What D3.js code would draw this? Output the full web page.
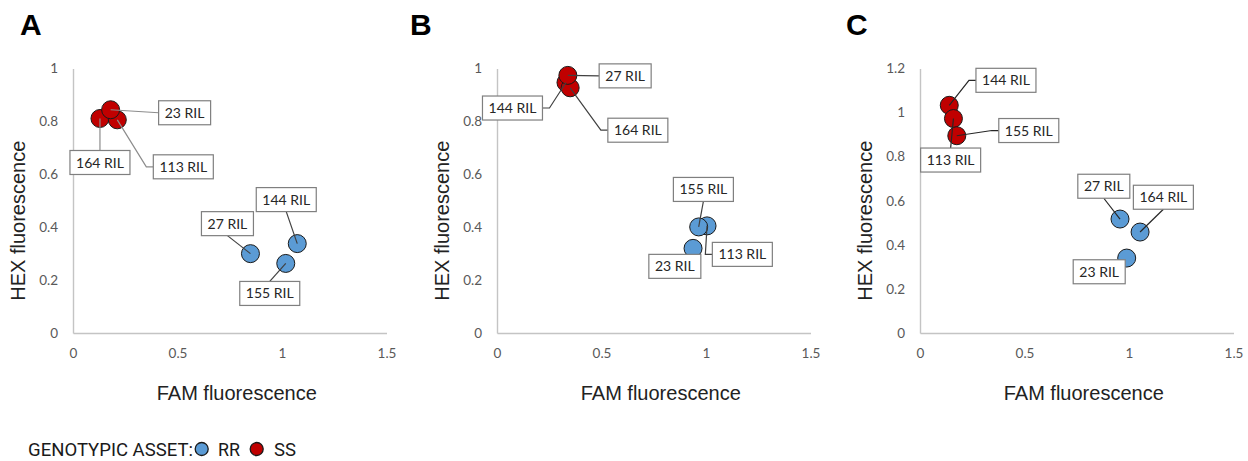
<!DOCTYPE html>
<html>
<head>
<meta charset="utf-8">
<script src="https://cdn.jsdelivr.net/npm/d3@7/dist/d3.min.js"></script>
<style>
  html, body { margin: 0; padding: 0; background: #fff; }
  svg { display: block; }
</style>
</head>
<body>
<svg id="chart" width="1248" height="461"></svg>
<script>
// ---------- DATA ----------
const panelNames = ["A", "B", "C"];
const xTickValues = [0, 0.5, 1, 1.5];
const xTickLabels = ["0", "0.5", "1", "1.5"];
const yTickValuesAB = [0, 0.2, 0.4, 0.6, 0.8, 1];
const yTickLabelsAB = ["0", "0.2", "0.4", "0.6", "0.8", "1"];
const yTickValuesC = [0, 0.2, 0.4, 0.6, 0.8, 1, 1.2];
const yTickLabelsC = ["0", "0.2", "0.4", "0.6", "0.8", "1", "1.2"];
const xTitle = "FAM fluorescence";
const yTitle = "HEX fluorescence";
const legendTitle = "GENOTYPIC ASSET:";
const seriesNames = ["RR", "SS"];

// Panel A
const ssA_labels = ["164 RIL", "113 RIL", "23 RIL"];
const ssA_fam = [0.129, 0.212, 0.180];
const ssA_hex = [0.811, 0.806, 0.844];
const rrA_labels = ["27 RIL", "144 RIL", "155 RIL"];
const rrA_fam = [0.849, 1.073, 1.018];
const rrA_hex = [0.300, 0.338, 0.263];

// Panel B
const ssB_labels = ["144 RIL", "164 RIL", "27 RIL"];
const ssB_fam = [0.330, 0.350, 0.339];
const ssB_hex = [0.947, 0.927, 0.974];
const rrB_labels = ["113 RIL", "155 RIL", "23 RIL"];
const rrB_fam = [1.005, 0.965, 0.938];
const rrB_hex = [0.405, 0.401, 0.320];

// Panel C
const ssC_labels = ["144 RIL", "113 RIL", "155 RIL"];
const ssC_fam = [0.140, 0.160, 0.176];
const ssC_hex = [1.033, 0.973, 0.895];
const rrC_labels = ["27 RIL", "164 RIL", "23 RIL"];
const rrC_fam = [0.957, 1.053, 0.989];
const rrC_hex = [0.517, 0.458, 0.340];

// ---------- LAYOUT / STYLE ----------
const colors = { RR: "#5b9bd5", SS: "#c00000" };
// label box offsets (px, relative to point) and leader style
const labelLayout = {
  A: {
    "164 RIL": { dx: 0, dy: 44, leader: "t" },
    "113 RIL": { dx: 66, dy: 47, leader: "le" },
    "23 RIL": { dx: 74, dy: 3, leader: "l" },
    "27 RIL": { dx: -23, dy: -30, leader: "b" },
    "144 RIL": { dx: -11, dy: -44, leader: "b" },
    "155 RIL": { dx: -16, dy: 30, leader: "t" }
  },
  B: {
    "144 RIL": { dx: -53.5, dy: 25.5, leader: "re" },
    "164 RIL": { dx: 67.7, dy: 42.4, leader: "le" },
    "27 RIL": { dx: 57.3, dy: 0.5, leader: "l" },
    "113 RIL": { dx: 35.3, dy: 28.5, leader: "le" },
    "155 RIL": { dx: 4.7, dy: -37.5, leader: "b" },
    "23 RIL": { dx: -18.2, dy: 18, leader: "none" }
  },
  C: {
    "144 RIL": { dx: 56.7, dy: -25, leader: "le" },
    "113 RIL": { dx: -2.8, dy: 41.5, leader: "t" },
    "155 RIL": { dx: 72, dy: -5.2, leader: "le" },
    "27 RIL": { dx: -16.2, dy: -32.8, leader: "b" },
    "164 RIL": { dx: 23.3, dy: -34.8, leader: "b" },
    "23 RIL": { dx: -27.5, dy: 13.7, leader: "none" }
  }
};
const leaderColors = {
  A: { SS: "#8c8c8c", RR: "#404040" },
  B: { SS: "#404040", RR: "#404040" },
  C: { SS: "#262626", RR: "#262626" }
};
const panelLayout = {
  A: { left: 73, letterX: 20, yMax: 1, yTicks: yTickValuesAB, yLabels: yTickLabelsAB,
       ss: [ssA_labels, ssA_fam, ssA_hex], rr: [rrA_labels, rrA_fam, rrA_hex] },
  B: { left: 497, letterX: 410, yMax: 1, yTicks: yTickValuesAB, yLabels: yTickLabelsAB,
       ss: [ssB_labels, ssB_fam, ssB_hex], rr: [rrB_labels, rrB_fam, rrB_hex] },
  C: { left: 920, letterX: 846, yMax: 1.2, yTicks: yTickValuesC, yLabels: yTickLabelsC,
       ss: [ssC_labels, ssC_fam, ssC_hex], rr: [rrC_labels, rrC_fam, rrC_hex] }
};
const plotW = 313.5, yBottom = 333, yTop = 68.5;
const tickFont = "Lato, 'Open Sans', sans-serif";
const titleFont = "'Liberation Sans', Arial, sans-serif";

const svg = d3.select("#chart");

panelNames.forEach(name => {
  const P = panelLayout[name];
  const x = d3.scaleLinear().domain([0, 1.5]).range([P.left, P.left + plotW]);
  const y = d3.scaleLinear().domain([0, P.yMax]).range([yBottom, yTop]);
  const g = svg.append("g");

  // panel letter
  g.append("text").attr("x", P.letterX).attr("y", 35)
    .attr("font-family", titleFont).attr("font-weight", "bold")
    .attr("font-size", 30).attr("fill", "#000").text(name);

  // axes
  const xAxis = d3.axisBottom(x).tickValues(xTickValues)
    .tickFormat((d, i) => xTickLabels[i]).tickSize(0).tickSizeOuter(0).tickPadding(15);
  const yAxis = d3.axisLeft(y).tickValues(P.yTicks)
    .tickFormat((d, i) => P.yLabels[i]).tickSize(0).tickSizeOuter(0).tickPadding(15);

  const gx = g.append("g").attr("transform", `translate(0,${yBottom})`).call(xAxis);
  const gy = g.append("g").attr("transform", `translate(${P.left},0)`).call(yAxis);
  [gx, gy].forEach(a => {
    a.select(".domain").attr("stroke", "#c4c4c4").attr("stroke-width", 1.4);
    a.selectAll("text").attr("font-family", tickFont).attr("font-size", 13.5)
      .attr("fill", "#595959");
  });

  // axis titles
  g.append("text").attr("x", P.left + plotW / 2 + 7).attr("y", 400)
    .attr("text-anchor", "middle").attr("font-family", titleFont)
    .attr("font-size", 20).attr("fill", "#222").text(xTitle);
  g.append("text")
    .attr("transform", `translate(${P.left - 48},${(yBottom + yTop) / 2 + 20}) rotate(-90)`)
    .attr("text-anchor", "middle").attr("font-family", titleFont)
    .attr("font-size", 20).attr("fill", "#222").text(yTitle);

  // points
  const pts = [];
  [["RR", P.rr], ["SS", P.ss]].forEach(([s, arr]) => {
    arr[0].forEach((lab, i) => pts.push({ series: s, label: lab, fam: arr[1][i], hex: arr[2][i] }));
  });
  g.append("g").selectAll("circle").data(pts).join("circle")
    .attr("cx", d => x(d.fam)).attr("cy", d => y(d.hex)).attr("r", 9)
    .attr("fill", d => colors[d.series]).attr("stroke", "#1a1a1a").attr("stroke-width", 1);

  // labels
  const lg = g.append("g");
  pts.forEach(d => {
    const L = labelLayout[name][d.label];
    const px = x(d.fam), py = y(d.hex);
    const cx = px + L.dx, cy = py + L.dy;
    const t = lg.append("text").attr("x", cx).attr("y", cy).attr("dy", "0.36em")
      .attr("text-anchor", "middle").attr("font-family", tickFont)
      .attr("font-size", 14).attr("fill", "#262626").text(d.label);
    const tw = t.node().getComputedTextLength();
    const w = Math.round(tw + 12), h = 24;
    let pathPts = null;
    if (L.leader === "l") pathPts = [[px, py], [cx - w / 2, cy]];
    else if (L.leader === "r") pathPts = [[px, py], [cx + w / 2, cy]];
    else if (L.leader === "t") pathPts = [[px, py], [cx, cy - h / 2]];
    else if (L.leader === "b") pathPts = [[px, py], [cx, cy + h / 2]];
    else if (L.leader === "le") pathPts = [[px, py], [cx - w / 2 - 7, cy], [cx - w / 2, cy]];
    else if (L.leader === "re") pathPts = [[px, py], [cx + w / 2 + 7, cy], [cx + w / 2, cy]];
    if (pathPts) {
      lg.insert("path", ":first-child").attr("d", d3.line()(pathPts))
        .attr("fill", "none").attr("stroke", leaderColors[name][d.series]).attr("stroke-width", 1.2);
    }
    lg.insert("rect", "text").attr("x", cx - w / 2).attr("y", cy - h / 2)
      .attr("width", w).attr("height", h).attr("fill", "#fff")
      .attr("stroke", "#7f7f7f").attr("stroke-width", 1.2);
  });
  lg.selectAll("text").raise();
});

// legend
const leg = svg.append("g");
leg.append("text").attr("x", 28).attr("y", 455.5)
  .attr("font-family", "Roboto, sans-serif").attr("font-size", 18)
  .attr("textLength", 165).attr("lengthAdjust", "spacingAndGlyphs")
  .attr("fill", "#1a1a1a").text(legendTitle);
const legItems = [{ s: seriesNames[0], cx: 201.7, tx: 218 }, { s: seriesNames[1], cx: 256.7, tx: 274 }];
legItems.forEach(it => {
  leg.append("circle").attr("cx", it.cx).attr("cy", 449).attr("r", 6.5)
    .attr("fill", colors[it.s]).attr("stroke", "#1a1a1a").attr("stroke-width", 1.3);
  leg.append("text").attr("x", it.tx).attr("y", 455.5)
    .attr("font-family", "Roboto, sans-serif").attr("font-size", 18)
    .attr("textLength", 22).attr("lengthAdjust", "spacingAndGlyphs")
    .attr("fill", "#1a1a1a").text(it.s);
});
</script>
</body>
</html>
